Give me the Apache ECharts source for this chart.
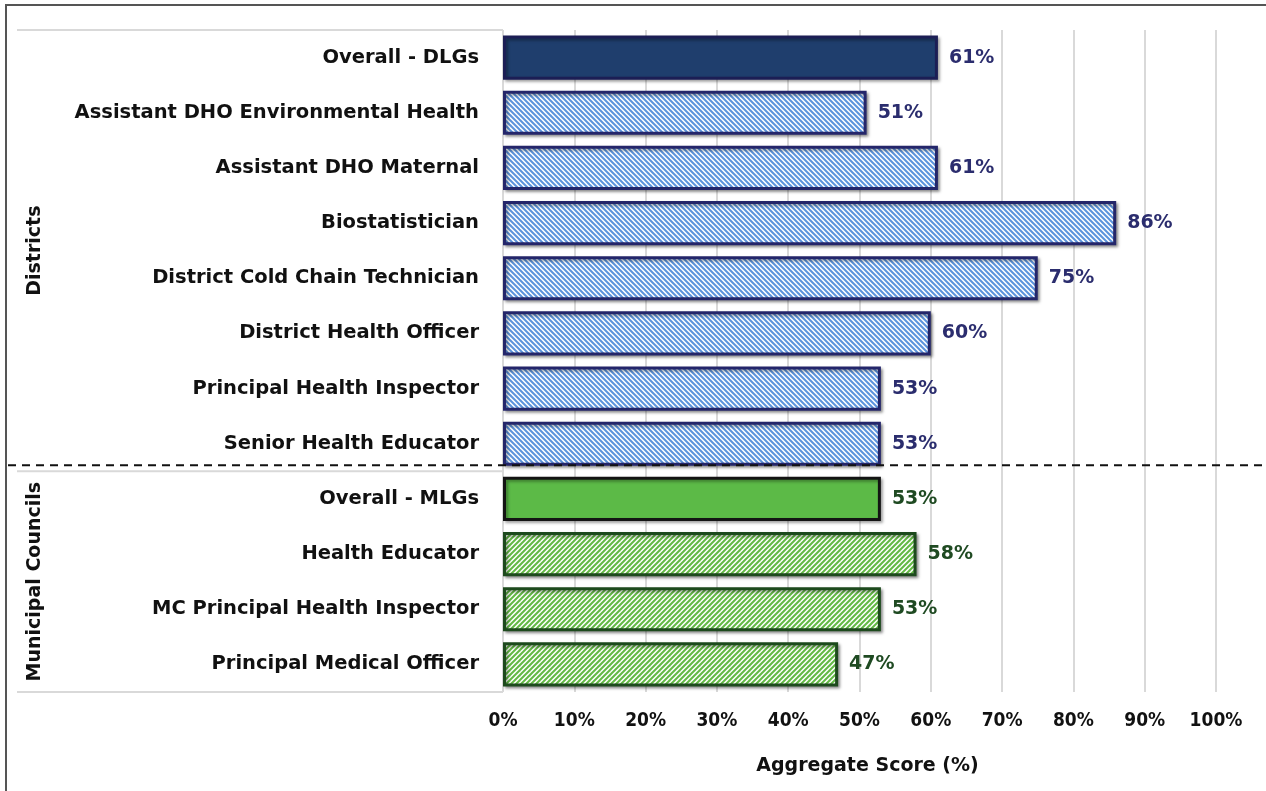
<!DOCTYPE html>
<html>
<head>
<meta charset="utf-8">
<script src="https://cdn.jsdelivr.net/npm/echarts@6/dist/echarts.min.js"></script>
<style>html,body{margin:0;padding:0;background:#fff}#c{width:1266px;height:791px}</style>
</head>
<body>
<div id="c"></div>
<script>
// ---- data ----
var categories = [
  'Overall - DLGs','Assistant DHO Environmental Health','Assistant DHO Maternal','Biostatistician',
  'District Cold Chain Technician','District Health Officer','Principal Health Inspector','Senior Health Educator',
  'Overall - MLGs','Health Educator','MC Principal Health Inspector','Principal Medical Officer'
];
var scores = [61, 51, 61, 86, 75, 60, 53, 53, 53, 58, 53, 47];
var groupNames = ['Districts', 'Municipal Councils'];
var groupSizes = [8, 4];
var xTicks = [0, 10, 20, 30, 40, 50, 60, 70, 80, 90, 100];
var axisTitle = 'Aggregate Score (%)';

// ---- styles ----
function stripes(fg, dir) {
  var T = 10, P = 5;
  var c = document.createElement('canvas');
  c.width = T; c.height = T;
  var ctx = c.getContext('2d');
  ctx.fillStyle = '#ffffff'; ctx.fillRect(0, 0, T, T);
  ctx.strokeStyle = fg; ctx.lineWidth = 2.0;
  for (var k = -3 * T; k <= 3 * T; k += P) {
    ctx.beginPath();
    if (dir > 0) { ctx.moveTo(k - T, -T); ctx.lineTo(k + 2 * T, 2 * T); }   // "\"
    else { ctx.moveTo(k - T, 2 * T); ctx.lineTo(k + 2 * T, -T); }           // "/"
    ctx.stroke();
  }
  return { image: c, repeat: 'repeat' };
}
var styleSets = [
  { solid: '#1f3e6d', hatch: stripes('#5b93dc', 1), border: '#24266a', label: '#2b2d6e', solidBorder: '#1c1e55' },
  { solid: '#5cba47', hatch: stripes('#62b944', -1), border: '#1d4a1d', label: '#1f4a22', solidBorder: '#141414' }
];
var FONT = 'DejaVu Sans';

var dataItems = [];
var gi = 0, cnt = 0;
for (var i = 0; i < scores.length; i++) {
  var s = styleSets[gi];
  var isOverall = cnt === 0;
  dataItems.push({
    value: scores[i],
    itemStyle: {
      color: isOverall ? s.solid : s.hatch,
      borderColor: isOverall ? s.solidBorder : s.border,
      borderWidth: 3,
      shadowColor: 'rgba(0,0,0,0.35)', shadowBlur: 3, shadowOffsetX: 2, shadowOffsetY: 2
    },
    label: { color: s.label }
  });
  cnt++;
  if (cnt >= groupSizes[gi]) { gi++; cnt = 0; }
}

var chart = echarts.init(document.getElementById('c'), null, { renderer: 'canvas' });
chart.setOption({
  animation: false,
  backgroundColor: '#ffffff',
  grid: { left: 503, right: 50, top: 30, bottom: 99, containLabel: false },
  xAxis: {
    type: 'value', min: xTicks[0], max: xTicks[xTicks.length - 1], interval: xTicks[1] - xTicks[0],
    axisLine: { show: false }, axisTick: { show: false },
    splitLine: { show: true, lineStyle: { color: '#d9d9d9', width: 2 } },
    axisLabel: { formatter: '{value}%', fontFamily: 'DejaVu Sans Condensed', fontWeight: 'bold', fontSize: 19, color: '#111', margin: 20 },
    name: axisTitle, nameLocation: 'middle', nameGap: 65,
    nameTextStyle: { fontFamily: FONT, fontWeight: 'bold', fontSize: 19, color: '#111', padding: [0, 0, 0, 16] }
  },
  yAxis: {
    type: 'category', data: categories, inverse: true,
    axisLine: { show: false }, axisTick: { show: false }, splitLine: { show: false },
    axisLabel: { fontFamily: FONT, fontWeight: 'bold', fontSize: 19.5, color: '#111', margin: 24 }
  },
  series: [{
    type: 'bar', data: dataItems, barCategoryGap: '20%',
    label: { show: true, position: 'right', distance: 11, formatter: '{c}%', fontFamily: FONT, fontWeight: 'bold', fontSize: 19 }
  }]
});

// ---- annotations (group labels, separators) from axis pixel positions ----
(function () {
  var zr = chart.getZr();
  var G = echarts.graphic;
  var c0 = chart.convertToPixel({ yAxisIndex: 0 }, categories[0]);
  var c1 = chart.convertToPixel({ yAxisIndex: 0 }, categories[1]);
  var band = c1 - c0;
  var xZero = chart.convertToPixel({ xAxisIndex: 0 }, 0);
  zr.add(new G.Rect({ shape: { x: 6, y: 5, width: 1400, height: 1000 }, style: { fill: null, stroke: '#555', lineWidth: 2 }, silent: true, z: 100 }));
  var start = 0;
  var lineYs = [c0 - band / 2];
  for (var g = 0; g < groupNames.length; g++) {
    var yTop = chart.convertToPixel({ yAxisIndex: 0 }, categories[start]) - band / 2;
    var yBot = chart.convertToPixel({ yAxisIndex: 0 }, categories[start + groupSizes[g] - 1]) + band / 2;
    lineYs.push(yBot);
    zr.add(new G.Text({
      x: 35, y: (yTop + yBot) / 2, rotation: Math.PI / 2, z: 100,
      style: { text: groupNames[g], fontFamily: FONT, fontWeight: 'bold', fontSize: 19, fill: '#111', align: 'center', verticalAlign: 'middle' }
    }));
    if (g < groupNames.length - 1) {
      zr.add(new G.Line({ shape: { x1: 8, y1: yBot - 6, x2: 1266, y2: yBot - 6 }, style: { stroke: '#111', lineWidth: 2, lineDash: [8, 6] }, z: 100 }));
    }
    start += groupSizes[g];
  }
  lineYs.forEach(function (y) {
    zr.add(new G.Line({ shape: { x1: 17, y1: y, x2: xZero, y2: y }, style: { stroke: '#d9d9d9', lineWidth: 2 }, z: 100 }));
  });
})();
</script>
</body>
</html>
